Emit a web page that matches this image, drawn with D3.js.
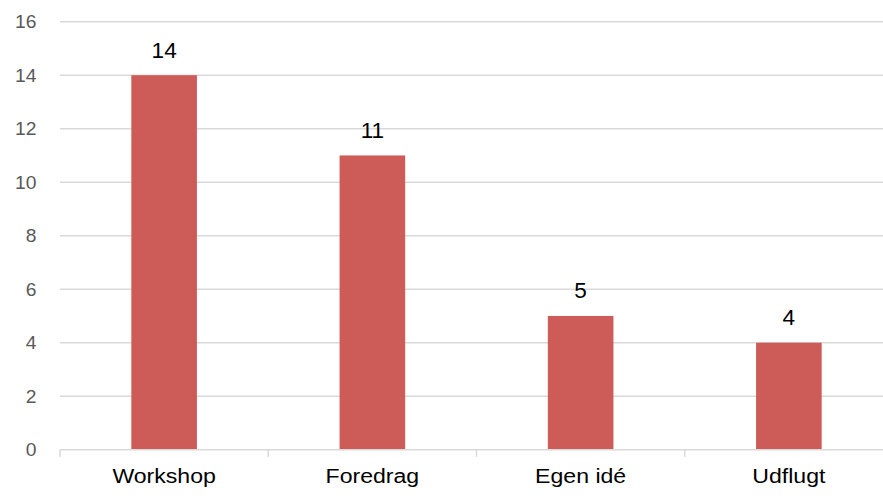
<!DOCTYPE html>
<html lang="da">
<head>
  <meta charset="UTF-8">
  <title>Aktiviteter</title>
  <style>
    body { margin: 0; background: #fff; }
    svg text { font-family: 'Liberation Sans', Arial, sans-serif; }
  </style>
  <script src="https://cdn.jsdelivr.net/npm/d3@7"></script>
</head>
<body>
<script>
  // chart data
  const categories = ["Workshop", "Foredrag", "Egen idé", "Udflugt"];
  const counts = [14, 11, 5, 4];
  const yTicks = [0, 2, 4, 6, 8, 10, 12, 14, 16];

  const width = 883, height = 498;
  const plotLeft = 60, plotRight = 893, plotTop = 21.7, plotBottom = 449.7;
  const stretch = 1.1; // text in the picture is a bit wider than tall

  const svg = d3.select("body").append("svg")
    .attr("width", width)
    .attr("height", height);

  const x = d3.scaleBand()
    .domain(categories)
    .range([plotLeft, plotRight])
    .paddingInner(0.685)
    .paddingOuter(0.3425);

  const y = d3.scaleLinear()
    .domain([0, 16])
    .range([plotBottom, plotTop]);

  // gridlines
  svg.append("g")
    .selectAll("line")
    .data(yTicks.filter(t => t > 0))
    .enter().append("line")
    .attr("x1", plotLeft)
    .attr("x2", width)
    .attr("y1", d => y(d))
    .attr("y2", d => y(d))
    .attr("stroke", "#d9d9d9")
    .attr("stroke-width", 1.5);

  // y tick labels
  svg.append("g")
    .selectAll("text")
    .data(yTicks)
    .enter().append("text")
    .attr("transform", d => `translate(36.5,${y(d) + 6.4}) scale(${stretch},1)`)
    .attr("text-anchor", "end")
    .attr("fill", "#595959")
    .style("font-size", "17.5px")
    .text(d => d);

  // bars
  svg.append("g")
    .selectAll("rect")
    .data(categories)
    .enter().append("rect")
    .attr("x", d => x(d))
    .attr("width", x.bandwidth())
    .attr("y", (d, i) => y(counts[i]))
    .attr("height", (d, i) => plotBottom - y(counts[i]))
    .attr("fill", "#cd5b58");

  // x axis line and ticks
  const step = x.step();
  svg.append("line")
    .attr("x1", plotLeft).attr("x2", width)
    .attr("y1", plotBottom).attr("y2", plotBottom)
    .attr("stroke", "#d9d9d9")
    .attr("stroke-width", 1.5);

  svg.append("g")
    .selectAll("line")
    .data(d3.range(categories.length + 1))
    .enter().append("line")
    .attr("x1", i => plotLeft + i * step)
    .attr("x2", i => plotLeft + i * step)
    .attr("y1", plotBottom)
    .attr("y2", plotBottom + 7)
    .attr("stroke", "#d9d9d9")
    .attr("stroke-width", 1.5);

  // category labels
  svg.append("g")
    .selectAll("text")
    .data(categories)
    .enter().append("text")
    .attr("transform", d => `translate(${x(d) + x.bandwidth() / 2},483.3) scale(${stretch},1)`)
    .attr("text-anchor", "middle")
    .attr("fill", "#000")
    .style("font-size", "21px")
    .text(d => d);

  // value labels
  svg.append("g")
    .selectAll("text")
    .data(categories)
    .enter().append("text")
    .attr("transform", (d, i) => `translate(${x(d) + x.bandwidth() / 2},${y(counts[i]) - 17.6}) scale(1.05,1)`)
    .attr("text-anchor", "middle")
    .attr("fill", "#000")
    .style("font-size", "21.5px")
    .text((d, i) => counts[i]);
</script>
</body>
</html>
